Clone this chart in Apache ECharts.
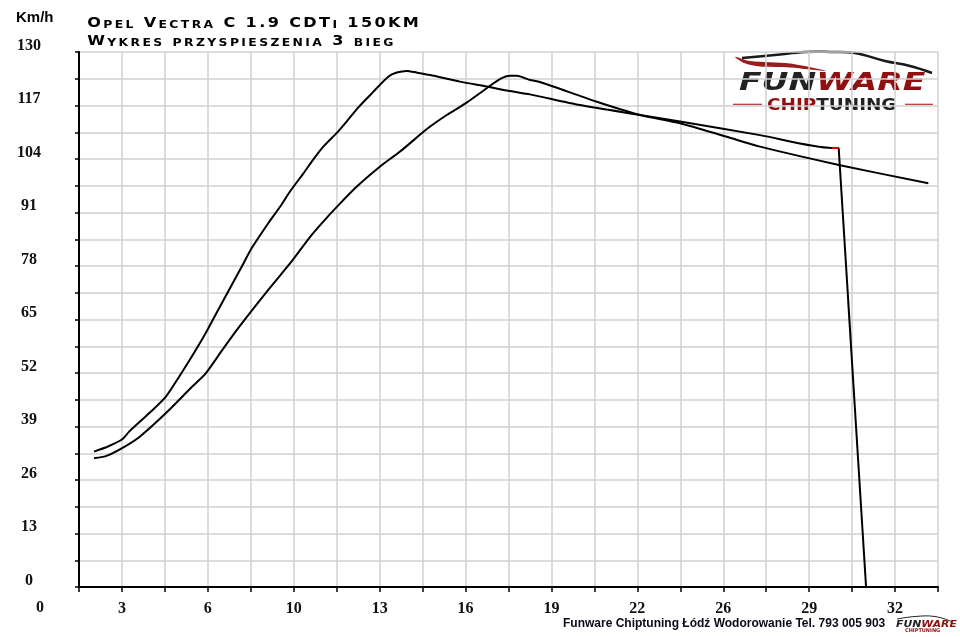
<!DOCTYPE html>
<html>
<head>
<meta charset="utf-8">
<script src="https://cdn.jsdelivr.net/npm/echarts@6/dist/echarts.min.js"></script>
<style>
html,body{margin:0;padding:0;background:#fff;}
#chart{width:960px;height:637px;}
</style>
</head>
<body>
<div id="chart"></div>
<script>
var title1 = 'Opel Vectra C 1.9 CDTi 150KM';
var title2 = 'Wykres przyspieszenia 3 bieg';
var footer = 'Funware Chiptuning Łódź Wodorowanie Tel. 793 005 903';
var yUnit = 'Km/h';

var xStep = 1.6;
var yStep = 6.5;
var xTickLabels = ['0','3','6','10','13','16','19','22','26','29','32'];
var yTickLabels = ['0','13','26','39','52','65','78','91','104','117','130'];

// curve that peaks early, then falls to zero at the end
var curveA = [
  [2.16,32.9],[2.7,34.2],[3.21,35.9],[3.46,37.7],[4.21,42.2],[4.83,46.2],[5.33,51.1],
  [5.95,57.6],[6.42,62.9],[6.98,69.7],[7.66,77.8],[8.03,82.3],[8.65,88.4],[9.09,92.4],
  [9.46,96.1],[9.96,100.5],[10.33,103.9],[10.70,107.0],[11.24,110.6],[11.57,113.1],
  [12.00,116.5],[12.56,120.3],[13.12,124.0],[13.44,125.0],[13.81,125.4],[14.18,125.0],
  [14.68,124.4],[15.79,122.8],[16.79,121.6],[17.66,120.5],[18.40,119.7],[20.26,117.1],
  [22.50,114.7],[23.99,113.1],[26.97,109.8],[29.64,106.7],[29.90,106.7]
];
var curveADrop = [[29.90,106.7],[30.92,0]];
// later peaking curve
var curveB = [
  [2.16,31.3],[2.6,31.8],[3.09,33.3],[3.84,36.4],[4.83,42.2],[5.82,48.7],[6.32,51.9],
  [6.94,57.6],[7.53,62.9],[8.65,72.2],[9.52,79.1],[10.21,85.1],[10.70,88.8],[11.24,92.6],
  [11.95,97.3],[12.84,102.3],[13.56,105.8],[14.43,110.6],[14.68,111.9],[15.30,114.7],
  [16.04,117.7],[16.79,121.2],[17.28,123.4],[17.66,124.2],[17.91,124.2],[18.40,123.2],
  [18.77,122.7],[20.89,117.9],[22.50,114.7],[23.99,112.7],[25.73,109.4],[26.97,107.0],
  [29.95,102.5],[33.24,98.1]
];
var redMark = [[29.64,106.7],[29.90,106.7]];

function smallCaps(s) {
  return s.split('').map(function (ch) {
    if (ch === ' ') return '{sp| }';
    var low = ch !== ch.toUpperCase();
    return '{' + (low ? 's' : 'b') + '|' + ch.toUpperCase() + '}';
  }).join('');
}
var capsRich = {
  b: {fontFamily:'DejaVu Sans', fontWeight:'bold', fontSize:13.5, lineHeight:16.2, verticalAlign:'bottom', padding:[0,1,0,1], color:'#111'},
  s: {fontFamily:'DejaVu Sans', fontWeight:'bold', fontSize:10.4, lineHeight:12.5, verticalAlign:'bottom', padding:[0,1,0,1], color:'#111'},
  sp: {fontFamily:'DejaVu Sans', fontWeight:'bold', fontSize:13.5, lineHeight:16.2, verticalAlign:'bottom', padding:[0,1,0,1]}
};

var chart = echarts.init(document.getElementById('chart'));
var axisFont = {fontFamily:'Liberation Serif', fontWeight:'bold', fontSize:16, color:'#111'};
var curveStyle = {color:'#000', width:2};

chart.setOption({
  animation: false,
  backgroundColor: '#fff',
  grid: {left:79, right:22, top:52, bottom:50},
  xAxis: {
    type:'value', min:xStep, max:xStep*21, interval:xStep,
    axisLine:{show:true, onZero:false, lineStyle:{color:'#000', width:2}},
    axisTick:{show:true, length:5, lineStyle:{color:'#000', width:1.5}},
    axisLabel:Object.assign({margin:14, formatter:function (v) {
      var k = Math.round(v / xStep);
      return k % 2 === 0 ? xTickLabels[k / 2] : '';
    }}, axisFont),
    splitLine:{show:true, lineStyle:{color:'#d0d0d0', width:1.5}}
  },
  yAxis: {
    type:'value', min:0, max:130, interval:yStep,
    axisLine:{show:true, lineStyle:{color:'#000', width:2}},
    axisTick:{show:true, length:4, lineStyle:{color:'#000', width:1.5}},
    axisLabel:Object.assign({align:'center', verticalAlign:'bottom', lineHeight:13, margin:50, formatter:function (v) {
      var k = Math.round(v / yStep);
      return k % 2 === 0 ? yTickLabels[k / 2] : '';
    }}, axisFont),
    splitLine:{show:true, lineStyle:{color:'#d0d0d0', width:1.5}}
  },
  series: [
    {name:'A', type:'line', data:curveA, symbol:'none', smooth:0.25, lineStyle:curveStyle, z:3},
    {name:'A spadek', type:'line', data:curveADrop, symbol:'none', lineStyle:curveStyle, z:3},
    {name:'B', type:'line', data:curveB, symbol:'none', smooth:0.25, lineStyle:curveStyle, z:3},
    {name:'mark', type:'line', data:redMark, symbol:'none', lineStyle:{color:'#e00', width:2}, z:4}
  ],
  graphic: [
    {id:'unit', type:'text', left:16, top:10, style:{text:yUnit, font:'bold 15px "Liberation Sans"', fill:'#000'}},
    {id:'t1', type:'text', x:86, y:14, scaleX:1.19, style:{text:smallCaps(title1), rich:capsRich}},
    {id:'t2', type:'text', x:86, y:32.5, scaleX:1.19, style:{text:smallCaps(title2), rich:capsRich}},
    {id:'foot', type:'text', left:563, top:618, style:{text:footer, font:'bold 12px "Liberation Sans"', fill:'#0a0a1a'}},
    // logo
    {id:'logo', type:'group', z:100, children:[
      {type:'rect', shape:{x:728, y:50, width:208, height:66}, style:{fill:'#fff'}},
      {type:'polygon', shape:{smooth:0.3, points:[[735,56.7],[750,61],[790,63.5],[826,71],[790,67.5],[760,66.5],[744,63]]}, style:{fill:'#9b1c1c'}},
      {type:'polyline', shape:{smooth:0.4, points:[[742,58],[775,55],[805,52],[830,52],[855,53],[885,61],[910,66],[932,73]]}, style:{fill:null, stroke:'#1a1a1a', lineWidth:2.5}},
      {type:'text', x:739, y:72, scaleX:1.38, style:{text:'{d|FUN}{r|WARE}', rich:{
        d:{font:'italic bold 24px "DejaVu Sans"', fill:'#222'},
        r:{font:'italic bold 24px "DejaVu Sans"', fill:'#8e1010'}}}},
      {type:'line', shape:{x1:733, y1:104.3, x2:762, y2:104.3}, style:{stroke:'#b03030', lineWidth:1.2}},
      {type:'line', shape:{x1:905, y1:104.3, x2:933, y2:104.3}, style:{stroke:'#b03030', lineWidth:1.2}},
      {type:'text', x:767, y:98, scaleX:1.15, style:{text:'{r|CHIP}{d|TUNING}', rich:{
        d:{font:'bold 16px "DejaVu Sans"', fill:'#222'},
        r:{font:'bold 16px "DejaVu Sans"', fill:'#8e1010'}}}}
    ]},
    // small logo in the corner
    {id:'logo2', type:'group', z:100, children:[
      {type:'polyline', shape:{smooth:0.4, points:[[897,619],[915,616.5],[935,616.5],[953,622]]}, style:{fill:null, stroke:'#222', lineWidth:1}},
      {type:'text', x:896, y:620, scaleX:1.2, style:{text:'{d|FUN}{r|WARE}', rich:{
        d:{font:'italic bold 9px "DejaVu Sans"', fill:'#222'},
        r:{font:'italic bold 9px "DejaVu Sans"', fill:'#8e1010'}}}},
      {type:'text', x:905, y:628, style:{text:'CHIPTUNING', font:'bold 5px "DejaVu Sans"', fill:'#8e1010'}}
    ]}
  ]
});

var zeroX = chart.convertToPixel({xAxisIndex:0}, 0);
var baseY = chart.convertToPixel({yAxisIndex:0}, 0);
chart.setOption({graphic: [
  {id:'zero', type:'text', x:zeroX + 4, y:baseY + 21, style:{text:xTickLabels[0], font:'bold 16px "Liberation Serif"', fill:'#111', align:'center', verticalAlign:'middle'}}
]});
</script>
</body>
</html>
